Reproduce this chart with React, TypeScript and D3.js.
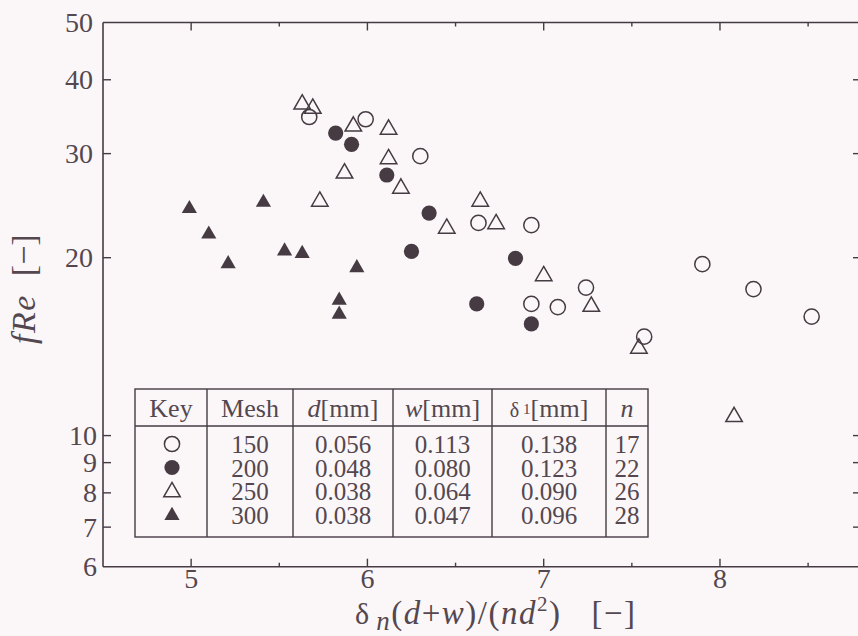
import React from 'react';
import * as d3 from 'd3';

// fRe vs delta_n(d+w)/(nd^2), one array per mesh
const mesh150 = [
  [5.67, 34.6], [5.99, 34.3], [6.3, 29.7], [6.63, 22.9], [6.93, 22.7], [6.93, 16.7],
  [7.08, 16.5], [7.24, 17.8], [7.57, 14.7], [7.9, 19.5], [8.19, 17.7], [8.52, 15.9],
];
const mesh200 = [
  [5.82, 32.5], [5.91, 31.1], [6.11, 27.6], [6.35, 23.8], [6.25, 20.5], [6.84, 19.95],
  [6.62, 16.7], [6.93, 15.45],
];
const mesh250 = [
  [5.63, 36.5], [5.69, 35.9], [5.92, 33.5], [6.12, 33.1], [6.12, 29.5], [5.87, 27.9],
  [5.73, 25.0], [6.19, 26.3], [6.64, 25.0], [6.45, 22.5], [6.73, 22.9], [7.0, 18.7],
  [7.27, 16.6], [7.54, 14.1], [8.08, 10.8],
];
const mesh300 = [
  [4.99, 24.3], [5.1, 22.0], [5.21, 19.6], [5.41, 24.9], [5.53, 20.6], [5.63, 20.4],
  [5.94, 19.3], [5.84, 17.0], [5.84, 16.1],
];

const meshNames = ['150', '200', '250', '300'];
const dValues = ['0.056', '0.048', '0.038', '0.038'];
const wValues = ['0.113', '0.080', '0.064', '0.047'];
const delta1Values = ['0.138', '0.123', '0.090', '0.096'];
const nValues = ['17', '22', '26', '28'];

const xMajorTicks = [5, 6, 7, 8];
const xMinorTicks = [5.5, 6.5, 7.5, 8.5];
const yTicks = [6, 7, 8, 9, 10, 20, 30, 40, 50];

const ink = '#463a43';
const textColor = '#54474f';
const font = '"Liberation Serif", "Times New Roman", serif';

const x = d3.scaleLinear().domain([4.5, 8.8]).range([103, 861]);
const y = d3.scaleLog().domain([6, 50]).range([566.7, 22.5]);

type Kind = 'openCircle' | 'filledCircle' | 'openTriangle' | 'filledTriangle';
const kinds: Kind[] = ['openCircle', 'filledCircle', 'openTriangle', 'filledTriangle'];
const seriesList = [mesh150, mesh200, mesh250, mesh300];

const triOpen = d3.symbol().type(d3.symbolTriangle).size(118)()!;
const triFilled = d3.symbol().type(d3.symbolTriangle).size(100)()!;

function Marker({ kind, cx, cy }: { kind: Kind; cx: number; cy: number }) {
  if (kind === 'openCircle')
    return <circle cx={cx} cy={cy} r={7.6} fill="none" stroke={ink} strokeWidth={1.5} />;
  if (kind === 'filledCircle') return <circle cx={cx} cy={cy} r={7.6} fill={ink} />;
  if (kind === 'openTriangle')
    return <path d={triOpen} transform={`translate(${cx},${cy + 1})`} fill="none" stroke={ink} strokeWidth={1.5} />;
  return <path d={triFilled} transform={`translate(${cx},${cy + 1})`} fill={ink} />;
}

// legend table layout
const colEdges = [135, 207, 293, 393, 492, 606, 648];
const tableTop = 389;
const headerBottom = 426;
const tableBottom = 537;
const rowBaselines = [453, 476.5, 500, 523.5];

export default function App() {
  const left = x.range()[0];
  const right = x.range()[1];
  const top = y.range()[1];
  const bottom = y.range()[0];
  const colMid = (i: number) => (colEdges[i] + colEdges[i + 1]) / 2;

  return (
    <svg
      width={858}
      height={636}
      style={{ position: 'absolute', left: 0, top: 0, display: 'block' }}
      fontFamily={font}
    >
      <rect width={858} height={636} fill="#fbf7f8" />

      {/* frame */}
      <g stroke={ink} strokeWidth={1.6} fill="none">
        <line x1={left} y1={top} x2={right} y2={top} />
        <line x1={left} y1={top} x2={left} y2={bottom} />
        <line x1={left} y1={bottom} x2={right} y2={bottom} />
        <line x1={right} y1={top} x2={right} y2={bottom} />
      </g>

      {/* ticks, all pointing inward */}
      <g stroke={ink} strokeWidth={1.4}>
        {xMajorTicks.map((t) => (
          <g key={'M' + t}>
            <line x1={x(t)} x2={x(t)} y1={bottom} y2={bottom - 8} />
            <line x1={x(t)} x2={x(t)} y1={top} y2={top + 8} />
          </g>
        ))}
        {xMinorTicks.map((t) => (
          <g key={'m' + t}>
            <line x1={x(t)} x2={x(t)} y1={bottom} y2={bottom - 4} />
            <line x1={x(t)} x2={x(t)} y1={top} y2={top + 4} />
          </g>
        ))}
        {yTicks.filter((t) => t !== 6 && t !== 50).map((t) => (
          <g key={'y' + t}>
            <line x1={left} x2={left + 8} y1={y(t)} y2={y(t)} />
            <line x1={right} x2={right - 8} y1={y(t)} y2={y(t)} />
          </g>
        ))}
      </g>

      {/* tick labels */}
      <g fill={textColor} fontSize={28}>
        {xMajorTicks.map((t) => (
          <text key={t} x={x(t)} y={588} textAnchor="middle">{t}</text>
        ))}
        {yTicks.map((t) => (
          <text key={t} x={t >= 20 ? 93 : 97} y={y(t)} dy="0.34em" textAnchor="end">{t}</text>
        ))}
      </g>

      {/* axis titles */}
      <text x={355} y={624} fontSize={33} fill={textColor} letterSpacing={1.5}>
        <tspan fontSize={30} letterSpacing={0}>δ</tspan>
        <tspan dx={7} dy={6} fontStyle="italic" fontSize={27}>n</tspan>
        <tspan dy={-6}>(</tspan>
        <tspan fontStyle="italic">d</tspan>
        <tspan>+</tspan>
        <tspan fontStyle="italic">w</tspan>
        <tspan>)/(</tspan>
        <tspan fontStyle="italic">nd</tspan>
        <tspan dy={-13} fontSize={21}>2</tspan>
        <tspan dy={13}>)</tspan>
        <tspan dx={30}>[−]</tspan>
      </text>
      <text transform="translate(35,344) rotate(-90)" fontSize={34} fill={textColor}>
        <tspan fontStyle="italic" letterSpacing={1.5}>fRe</tspan>
        <tspan dx={18}>[−]</tspan>
      </text>

      {/* data */}
      {seriesList.map((s, i) => (
        <g key={i}>
          {s.map(([vx, vy], j) => (
            <Marker key={j} kind={kinds[i]} cx={x(vx)} cy={y(vy)} />
          ))}
        </g>
      ))}

      {/* legend table */}
      <g stroke={ink} strokeWidth={1.4} fill="none">
        <rect x={colEdges[0]} y={tableTop} width={colEdges[6] - colEdges[0]} height={tableBottom - tableTop} fill="#fbf7f8" />
        <line x1={colEdges[0]} x2={colEdges[6]} y1={headerBottom} y2={headerBottom} />
        {colEdges.slice(1, 6).map((c) => (
          <line key={c} x1={c} x2={c} y1={tableTop} y2={tableBottom} />
        ))}
      </g>
      <g fill={textColor} fontSize={26} textAnchor="middle">
        <text x={colMid(0)} y={417}>Key</text>
        <text x={colMid(1)} y={417}>Mesh</text>
        <text x={colMid(2)} y={417}>
          <tspan fontStyle="italic">d</tspan>[mm]
        </text>
        <text x={colMid(3)} y={417}>
          <tspan fontStyle="italic">w</tspan>[mm]
        </text>
        <text x={colMid(4)} y={417}>
          <tspan fontSize={20}>δ</tspan>
          <tspan fontSize={15} dx={4} dy={-3}>1</tspan>
          <tspan dy={3}>[mm]</tspan>
        </text>
        <text x={colMid(5)} y={417} fontStyle="italic">n</text>
      </g>
      <g fill={textColor} fontSize={25} textAnchor="middle">
        {meshNames.map((m, i) => (
          <g key={m}>
            <text x={colMid(1)} y={rowBaselines[i]}>{m}</text>
            <text x={colMid(2)} y={rowBaselines[i]}>{dValues[i]}</text>
            <text x={colMid(3)} y={rowBaselines[i]}>{wValues[i]}</text>
            <text x={colMid(4)} y={rowBaselines[i]}>{delta1Values[i]}</text>
            <text x={colMid(5)} y={rowBaselines[i]}>{nValues[i]}</text>
          </g>
        ))}
      </g>
      {kinds.map((k, i) => (
        <Marker key={k} kind={k} cx={172} cy={rowBaselines[i] - 9} />
      ))}
    </svg>
  );
}
